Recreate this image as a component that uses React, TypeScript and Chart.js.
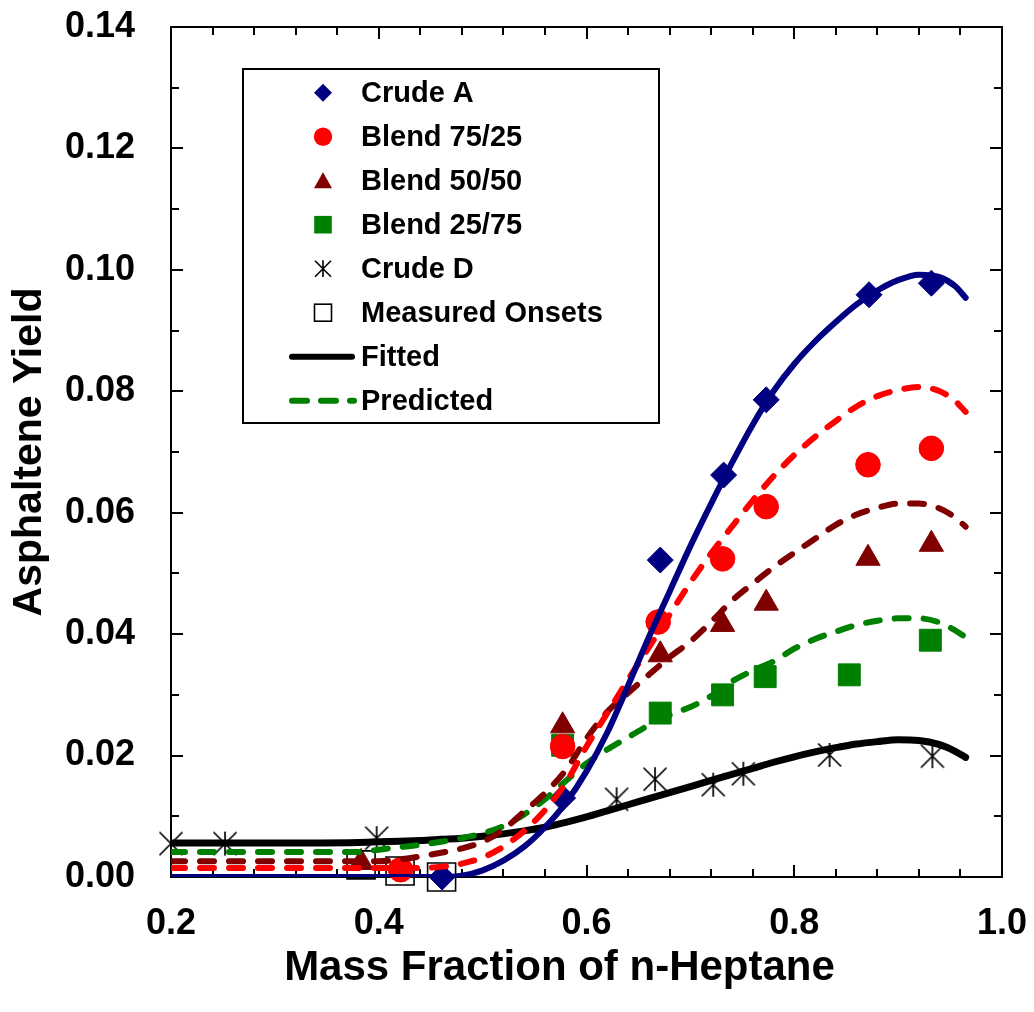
import React, { useEffect, useRef } from 'react';
import { Chart, registerables } from 'chart.js';

Chart.register(...registerables);

const FONT = '"Liberation Sans", Arial, Helvetica, sans-serif';

// ---------------- measured data ----------------
const crudeAX = [0.461, 0.577, 0.671, 0.732, 0.773, 0.872, 0.932];
const crudeAY = [0.0, 0.013, 0.0522, 0.0662, 0.0786, 0.0959, 0.0978];

const blend7525X = [0.421, 0.577, 0.669, 0.731, 0.773, 0.871, 0.932];
const blend7525Y = [0.0012, 0.0215, 0.042, 0.0524, 0.061, 0.0679, 0.0706];

const blend5050X = [0.383, 0.577, 0.671, 0.731, 0.773, 0.871, 0.932];
const blend5050Y = [0.0024, 0.0249, 0.0366, 0.0416, 0.0451, 0.0525, 0.0548];

const blend2575X = [0.577, 0.671, 0.731, 0.772, 0.853, 0.931];
const blend2575Y = [0.0217, 0.027, 0.03, 0.033, 0.0333, 0.039];

const crudeDX = [0.2, 0.252, 0.398, 0.629, 0.666, 0.722, 0.751, 0.834, 0.933];
const crudeDY = [0.0055, 0.0055, 0.0064, 0.0128, 0.0161, 0.0152, 0.017, 0.0201, 0.0199];

const onsetX = [0.383, 0.4205, 0.4605];
const onsetY = [0.002, 0.001, 0.0];

// ---------------- model curves ----------------
const curveX = [0.2, 0.3, 0.38, 0.4, 0.42, 0.44, 0.46, 0.48, 0.5, 0.52, 0.54, 0.56, 0.58, 0.6, 0.62, 0.64, 0.66, 0.68, 0.7, 0.72, 0.74, 0.76, 0.78, 0.8, 0.82, 0.84, 0.86, 0.88, 0.9, 0.92, 0.94, 0.955, 0.965];
const fittedA = [0, 0, 0, 0, 0, 0, 0, 0.0002, 0.0011, 0.0027, 0.005, 0.0082, 0.0122, 0.0174, 0.0238, 0.0315, 0.0395, 0.047, 0.0545, 0.0615, 0.0682, 0.0745, 0.08, 0.0845, 0.0882, 0.0914, 0.0943, 0.0966, 0.0983, 0.0992, 0.0988, 0.0973, 0.0954];
const predicted7525 = [0.0015, 0.0015, 0.0015, 0.0015, 0.0015, 0.0015, 0.0017, 0.0022, 0.0032, 0.005, 0.0076, 0.011, 0.0155, 0.0215, 0.027, 0.0325, 0.0378, 0.0432, 0.0485, 0.0533, 0.0577, 0.062, 0.066, 0.0695, 0.0725, 0.0751, 0.0775, 0.0792, 0.0802, 0.0807, 0.08, 0.0784, 0.0766];
const predicted5050 = [0.0026, 0.0026, 0.0026, 0.0026, 0.0029, 0.0034, 0.004, 0.0047, 0.0058, 0.0078, 0.0108, 0.0138, 0.0176, 0.0228, 0.0272, 0.0303, 0.0333, 0.0362, 0.0388, 0.042, 0.0455, 0.0483, 0.051, 0.0534, 0.0557, 0.058, 0.0597, 0.0608, 0.0615, 0.0615, 0.0607, 0.0592, 0.0577];
const predicted2575 = [0.0041, 0.0041, 0.0041, 0.0045, 0.0049, 0.0053, 0.0058, 0.0064, 0.0072, 0.0084, 0.0103, 0.0128, 0.0158, 0.0187, 0.021, 0.023, 0.025, 0.0267, 0.028, 0.0298, 0.0322, 0.034, 0.0355, 0.0376, 0.0392, 0.0404, 0.0415, 0.0422, 0.0426, 0.0426, 0.0419, 0.0406, 0.0395];
const fittedD = [0.0056, 0.0056, 0.0057, 0.0058, 0.0059, 0.006, 0.0062, 0.0064, 0.0067, 0.0071, 0.0076, 0.0082, 0.009, 0.0099, 0.0109, 0.0119, 0.0129, 0.0139, 0.0149, 0.0159, 0.0169, 0.0179, 0.0189, 0.0198, 0.0206, 0.0213, 0.0219, 0.0223, 0.0226, 0.0225, 0.0218, 0.0207, 0.0197];

// ---------------- text ----------------
const xTickLabels = ['0.2', '0.4', '0.6', '0.8', '1.0'];
const yTickLabels = ['0.00', '0.02', '0.04', '0.06', '0.08', '0.10', '0.12', '0.14'];
const legendLabels = ['Crude A', 'Blend 75/25', 'Blend 50/50', 'Blend 25/75', 'Crude D', 'Measured Onsets', 'Fitted', 'Predicted'];
const xTitle = 'Mass Fraction of n-Heptane';
const yTitle = 'Asphaltene Yield';

const NAVY = '#000080';
const RED = '#ff0000';
const DARKRED = '#800000';
const GREEN = '#008000';
const BLACK = '#000000';

const pts = (xs: number[], ys: number[]) => xs.map((x, i) => ({ x, y: ys[i] }));

function drawAsterisk(ctx: CanvasRenderingContext2D, cx: number, cy: number, h: number, lw: number) {
  ctx.save();
  ctx.strokeStyle = BLACK;
  ctx.lineWidth = lw;
  ctx.beginPath();
  ctx.moveTo(cx - h, cy - h);
  ctx.lineTo(cx + h, cy + h);
  ctx.moveTo(cx + h, cy - h);
  ctx.lineTo(cx - h, cy + h);
  ctx.moveTo(cx, cy - h * 1.05);
  ctx.lineTo(cx, cy + h * 1.05);
  ctx.stroke();
  ctx.restore();
}

function findLabel(labels: string[], v: number) {
  const l = labels.find((s) => Math.abs(parseFloat(s) - v) < 1e-6);
  return l === undefined ? '' : l;
}

const framePlugin = {
  id: 'frameTicks',
  beforeDatasetsDraw(chart: any) {
    const { ctx, chartArea: a } = chart;
    const xs = chart.scales.x;
    const ys = chart.scales.y;
    ctx.save();
    ctx.strokeStyle = BLACK;
    ctx.lineWidth = 2;
    ctx.strokeRect(a.left, a.top, a.right - a.left, a.bottom - a.top);
    ctx.beginPath();
    const xMajor = xs.ticks.map((t: any) => t.value);
    const yMajor = ys.ticks.map((t: any) => t.value);
    const MAJ = 12;
    const MIN = 8;
    const xt = (v: number, len: number) => {
      const p = Math.round(xs.getPixelForValue(v));
      ctx.moveTo(p, a.bottom);
      ctx.lineTo(p, a.bottom - len);
      ctx.moveTo(p, a.top);
      ctx.lineTo(p, a.top + len);
    };
    const yt = (v: number, len: number) => {
      const p = Math.round(ys.getPixelForValue(v));
      ctx.moveTo(a.left, p);
      ctx.lineTo(a.left + len, p);
      ctx.moveTo(a.right, p);
      ctx.lineTo(a.right - len, p);
    };
    xMajor.forEach((v: number, i: number) => {
      xt(v, MAJ);
      if (i < xMajor.length - 1) {
        const step = (xMajor[i + 1] - v) / 5;
        for (let k = 1; k < 5; k++) xt(v + step * k, MIN);
      }
    });
    yMajor.forEach((v: number, i: number) => {
      yt(v, MAJ);
      if (i < yMajor.length - 1) {
        yt((v + yMajor[i + 1]) / 2, MIN);
      }
    });
    ctx.stroke();
    ctx.restore();
  },
};

const textPlugin = {
  id: 'titlesAndLegend',
  afterDraw(chart: any) {
    const { ctx, chartArea: a } = chart;
    ctx.save();
    // x axis title
    ctx.fillStyle = BLACK;
    ctx.font = `bold 42px ${FONT}`;
    ctx.textAlign = 'center';
    ctx.textBaseline = 'alphabetic';
    ctx.fillText(xTitle, (a.left + a.right) / 2 - 27, a.bottom + 103);

    // legend box
    const L = a.left + 72;
    const T = a.top + 42;
    const W = 416;
    const H = 354;
    ctx.lineWidth = 2;
    ctx.strokeStyle = BLACK;
    ctx.strokeRect(L, T, W, H);
    const mx = L + 80;
    const tx = L + 118;
    const y0 = T + 23.7;
    const dy = 44;
    legendLabels.forEach((label, i) => {
      const y = y0 + i * dy;
      ctx.save();
      if (i === 0) {
        ctx.fillStyle = NAVY;
        ctx.beginPath();
        ctx.moveTo(mx, y - 9);
        ctx.lineTo(mx + 9, y);
        ctx.lineTo(mx, y + 9);
        ctx.lineTo(mx - 9, y);
        ctx.closePath();
        ctx.fill();
      } else if (i === 1) {
        ctx.fillStyle = RED;
        ctx.beginPath();
        ctx.arc(mx, y, 9.2, 0, Math.PI * 2);
        ctx.fill();
      } else if (i === 2) {
        ctx.fillStyle = DARKRED;
        ctx.beginPath();
        ctx.moveTo(mx, y - 8.5);
        ctx.lineTo(mx + 9, y + 7.5);
        ctx.lineTo(mx - 9, y + 7.5);
        ctx.closePath();
        ctx.fill();
      } else if (i === 3) {
        ctx.fillStyle = GREEN;
        ctx.fillRect(mx - 8.8, y - 8.8, 17.6, 17.6);
      } else if (i === 4) {
        drawAsterisk(ctx, mx, y, 8, 1.6);
      } else if (i === 5) {
        ctx.strokeStyle = BLACK;
        ctx.lineWidth = 1.6;
        ctx.strokeRect(mx - 8.5, y - 8.5, 17, 17);
      } else if (i === 6) {
        ctx.strokeStyle = BLACK;
        ctx.lineWidth = 6;
        ctx.lineCap = 'round';
        ctx.beginPath();
        ctx.moveTo(L + 49, y);
        ctx.lineTo(L + 109, y);
        ctx.stroke();
      } else {
        ctx.strokeStyle = GREEN;
        ctx.lineWidth = 6;
        ctx.lineCap = 'round';
        ctx.setLineDash([15, 14]);
        ctx.beginPath();
        ctx.moveTo(L + 49, y);
        ctx.lineTo(L + 111, y);
        ctx.stroke();
      }
      ctx.restore();
      ctx.fillStyle = BLACK;
      ctx.font = `bold 29px ${FONT}`;
      ctx.textAlign = 'left';
      ctx.textBaseline = 'middle';
      ctx.fillText(label, tx, y + 1);
    });
    ctx.restore();
  },
};

export default function App() {
  const ref = useRef<HTMLCanvasElement | null>(null);

  useEffect(() => {
    if (!ref.current) return;
    const ast = document.createElement('canvas');
    ast.width = 28;
    ast.height = 28;
    const actx = ast.getContext('2d');
    if (actx) drawAsterisk(actx, 14, 14, 11.5, 1.7);

    const markerBase = { showLine: false, clip: false as any, order: 2 };
    const lineBase = {
      showLine: true,
      pointRadius: 0,
      borderWidth: 6,
      fill: false,
      cubicInterpolationMode: 'monotone' as const,
      order: 0,
    };
    const dashed = { borderDash: [14, 15], borderCapStyle: 'round' as const };

    const chart = new Chart(ref.current, {
      type: 'scatter',
      data: {
        datasets: [
          { ...markerBase, label: legendLabels[0], data: pts(crudeAX, crudeAY), pointStyle: 'rectRot', pointRadius: 13, backgroundColor: NAVY, borderColor: NAVY, borderWidth: 1 },
          { ...markerBase, label: legendLabels[1], data: pts(blend7525X, blend7525Y), pointStyle: 'circle', pointRadius: 12.3, backgroundColor: RED, borderColor: RED, borderWidth: 1 },
          { ...markerBase, label: legendLabels[2], data: pts(blend5050X, blend5050Y), pointStyle: 'triangle', pointRadius: 14, backgroundColor: DARKRED, borderColor: DARKRED, borderWidth: 1 },
          { ...markerBase, label: legendLabels[3], data: pts(blend2575X, blend2575Y), pointStyle: 'rect', pointRadius: 15.5, backgroundColor: GREEN, borderColor: GREEN, borderWidth: 1 },
          { ...markerBase, label: legendLabels[4], data: pts(crudeDX, crudeDY), pointStyle: ast as any, pointRadius: 12, backgroundColor: BLACK, borderColor: BLACK },
          { ...markerBase, order: 1, label: legendLabels[5], data: pts(onsetX, onsetY), pointStyle: 'rect', pointRadius: 19.8, backgroundColor: 'rgba(0,0,0,0)', borderColor: BLACK, borderWidth: 1.6 },
          { ...lineBase, label: 'Fitted Crude A', data: pts(curveX, fittedA), borderColor: NAVY, borderCapStyle: 'round' as const },
          { ...lineBase, ...dashed, label: 'Predicted Blend 75/25', data: pts(curveX, predicted7525), borderColor: RED },
          { ...lineBase, ...dashed, label: 'Predicted Blend 50/50', data: pts(curveX, predicted5050), borderColor: DARKRED },
          { ...lineBase, ...dashed, label: 'Predicted Blend 25/75', data: pts(curveX, predicted2575), borderColor: GREEN },
          { ...lineBase, label: 'Fitted Crude D', data: pts(curveX, fittedD), borderColor: BLACK, borderWidth: 7, borderCapStyle: 'round' as const },
        ] as any,
      },
      options: {
        animation: false,
        responsive: false,
        devicePixelRatio: 1,
        events: [],
        layout: { padding: { left: 0, right: 32, top: 27, bottom: 0 } },
        plugins: { legend: { display: false }, tooltip: { enabled: false } },
        scales: {
          x: {
            type: 'linear',
            min: 0.2,
            max: 1.0,
            grid: { display: false },
            border: { display: false },
            ticks: {
              stepSize: 0.2,
              autoSkip: false,
              maxRotation: 0,
              padding: 17,
              color: BLACK,
              font: { family: FONT, size: 36, weight: 'bold' },
              callback: (v: any) => findLabel(xTickLabels, Number(v)),
            },
            afterFit: (s: any) => {
              s.height = 135;
              s.paddingLeft = 0;
              s.paddingRight = 0;
            },
          },
          y: {
            type: 'linear',
            min: 0,
            max: 0.14,
            grid: { display: false },
            border: { display: false },
            title: {
              display: true,
              text: yTitle,
              color: BLACK,
              font: { family: FONT, size: 41, weight: 'bold' },
              padding: { top: 5, bottom: 0 },
            },
            ticks: {
              stepSize: 0.02,
              autoSkip: false,
              padding: 28,
              color: BLACK,
              font: { family: FONT, size: 36, weight: 'bold' },
              callback: (v: any) => findLabel(yTickLabels, Number(v)),
            },
            afterFit: (s: any) => {
              s.width = 171;
              s.paddingTop = 0;
              s.paddingBottom = 0;
            },
          },
        },
      } as any,
      plugins: [framePlugin, textPlugin],
    });
    return () => chart.destroy();
  }, []);

  return (
    <div style={{ position: 'absolute', left: 0, top: 0, width: 1034, height: 1012, background: '#fff' }}>
      <canvas ref={ref} width={1034} height={1012} style={{ display: 'block' }} />
    </div>
  );
}
